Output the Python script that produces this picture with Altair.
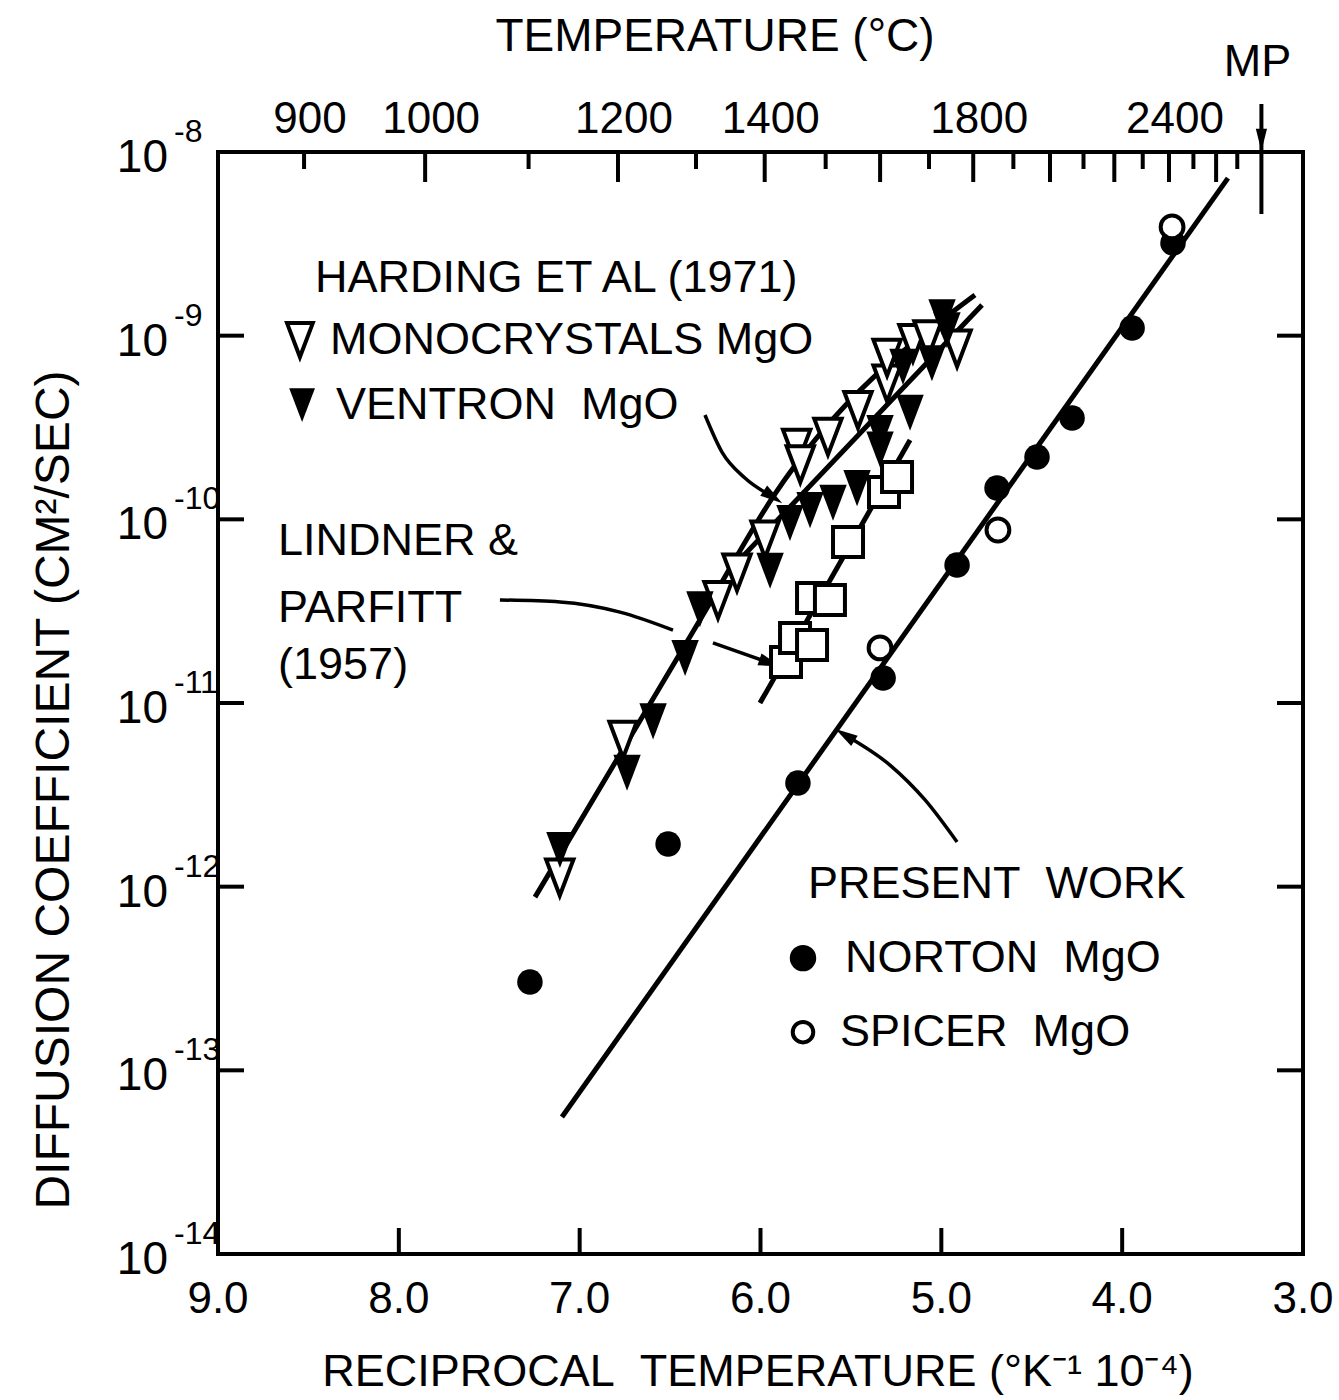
import altair as alt
import pandas as pd

W, H = 1085, 1102
FONT = "Liberation Sans"
SP = "\u00a0"

# ---------------- data: x = 10^4/T (K^-1), logD = log10 D (cm^2/s) ----------------
mono_x = [7.11, 6.76, 6.235, 6.13, 5.975, 5.80, 5.78, 5.627, 5.461, 5.30, 5.30, 5.157, 5.074, 4.913]
mono_logd = [-11.95, -11.20, -10.44, -10.29, -10.11, -9.61, -9.70, -9.55, -9.405, -9.26, -9.12, -9.04, -9.02, -9.07]

vent_x = [7.109, 6.738, 6.594, 6.417, 6.335, 5.947, 5.837, 5.726, 5.599, 5.466, 5.339, 5.339, 5.173, 5.212, 5.052, 4.996, 4.969]
vent_logd = [-11.80, -11.38, -11.10, -10.755, -10.49, -10.28, -10.02, -9.95, -9.91, -9.83, -9.53, -9.62, -9.42, -9.17, -9.15, -8.90, -8.97]

lind_x = [5.859, 5.809, 5.715, 5.715, 5.616, 5.516, 5.317, 5.245]
lind_logd = [-10.777, -10.646, -10.684, -10.428, -10.439, -10.124, -9.851, -9.770]

norton_x = [3.719, 3.945, 4.277, 4.471, 4.692, 4.913, 5.322, 5.793, 6.511, 7.275]
norton_logd = [-8.495, -8.958, -9.448, -9.661, -9.829, -10.249, -10.864, -11.436, -11.768, -12.519]

spicer_x = [3.724, 4.687, 5.339]
spicer_logd = [-8.408, -10.058, -10.700]

# fitted lines (vertices)
line_names = ["present", "present", "mono", "mono", "mono", "mono", "vent", "vent", "lind", "lind"]
line_x = [7.098, 3.415, 7.247, 6.335, 5.931, 4.814, 6.169, 4.775, 6.003, 5.173]
line_logd = [-13.254, -8.142, -12.057, -10.548, -9.878, -8.779, -10.276, -8.833, -11.0, -9.568]

# annotation arrows (leader curves)
arrow_names = ["a1"] * 4 + ["a2"] * 4 + ["a3"] * 2 + ["a4"] * 4
arrow_x = [6.307, 6.213, 6.086, 5.931,
           7.441, 7.109, 6.777, 6.484,
           6.263, 5.947,
           4.913, 5.090, 5.284, 5.533]
arrow_logd = [-9.432, -9.634, -9.775, -9.878,
              -10.439, -10.450, -10.505, -10.603,
              -10.673, -10.782,
              -11.757, -11.528, -11.338, -11.174]
head_x = [5.931, 5.947, 5.533]
head_logd = [-9.878, -10.782, -11.174]
head_angle = [124, 109, 302]

# axes
bottom_vals = [9.0, 8.0, 7.0, 6.0, 5.0, 4.0, 3.0]
bottom_text = ["9.0", "8.0", "7.0", "6.0", "5.0", "4.0", "3.0"]
decades = [-8, -9, -10, -11, -12, -13, -14]
temp_ticks = list(range(900, 2701, 100))
temp_labels = [900, 1000, 1200, 1400, 1800, 2400]
MP_X = 3.23

# annotation texts
ann_text = ["HARDING ET AL (1971)", "MONOCRYSTALS MgO", "VENTRON" + SP + SP + "MgO",
            "LINDNER &", "PARFITT", "(1957)", "PRESENT" + SP + SP + "WORK",
            "NORTON" + SP + SP + "MgO", "SPICER" + SP + SP + "MgO"]
ann_x = [8.464, 8.381, 8.347, 8.668, 8.668, 8.668, 5.737, 5.533, 5.560]
ann_logd = [-8.686, -9.024, -9.378, -10.118, -10.483, -10.793, -11.986, -12.389, -12.792]

key_x = [8.547, 8.535, 5.765, 5.765]
key_logd = [-9.024, -9.378, -12.389, -12.792]


def pts(xs, logs, **extra):
    d = pd.DataFrame({"x": xs, "D": [10.0 ** v for v in logs]})
    for k, v in extra.items():
        d[k] = v
    return d


xs = alt.Scale(domain=[3, 9], reverse=True, nice=False, zero=False)
ys = alt.Scale(type="log", domain=[1e-14, 1e-8], nice=False)
X = alt.X("x:Q", scale=xs, axis=None)
Y = alt.Y("D:Q", scale=ys, axis=None)

TRI_DOWN = "M-0.76,-1L0.76,-1L0,1Z"
HEAD = "M0,-1L-0.55,1L0.55,1Z"

layers = []

# fitted lines
ldf = pts(line_x, line_logd, s=line_names)
ldf["o"] = range(len(ldf))
layers.append(alt.Chart(ldf).mark_line(color="black", strokeWidth=5, interpolate="monotone").encode(
    X, Y, detail="s:N", order="o:Q"))

# leader arrows
adf = pts(arrow_x, arrow_logd, s=arrow_names)
adf["o"] = range(len(adf))
layers.append(alt.Chart(adf).mark_line(color="black", strokeWidth=3.5, interpolate="monotone").encode(
    X, Y, detail="s:N", order="o:Q"))
hdf = pts(head_x, head_logd, a=head_angle)
layers.append(alt.Chart(hdf).mark_point(shape=HEAD, filled=True, color="black", size=500, opacity=1).encode(
    X, Y, angle=alt.Angle("a:Q", scale=None)))

# data markers
layers.append(alt.Chart(pts(lind_x, lind_logd)).mark_point(
    shape="square", size=900, fill="white", stroke="black", strokeWidth=4, opacity=1, fillOpacity=1).encode(X, Y))
layers.append(alt.Chart(pts(mono_x, mono_logd)).mark_point(
    shape=TRI_DOWN, size=1300, fill="white", stroke="black", strokeWidth=4, opacity=1, fillOpacity=1).encode(X, Y))
layers.append(alt.Chart(pts(vent_x, vent_logd)).mark_point(
    shape=TRI_DOWN, size=1300, filled=True, color="black", opacity=1).encode(X, Y))
layers.append(alt.Chart(pts(norton_x, norton_logd)).mark_point(
    shape="circle", size=650, filled=True, color="black", opacity=1).encode(X, Y))
layers.append(alt.Chart(pts(spicer_x, spicer_logd)).mark_point(
    shape="circle", size=520, fill="white", stroke="black", strokeWidth=4, opacity=1, fillOpacity=1).encode(X, Y))

# key markers
kdf = pts(key_x, key_logd, k=["open_tri", "fill_tri", "fill_c", "open_c"])
layers.append(alt.Chart(kdf[kdf.k == "open_tri"]).mark_point(
    shape=TRI_DOWN, size=1150, fill="white", stroke="black", strokeWidth=4, opacity=1, fillOpacity=1).encode(X, Y))
layers.append(alt.Chart(kdf[kdf.k == "fill_tri"]).mark_point(
    shape=TRI_DOWN, size=1150, filled=True, color="black", opacity=1).encode(X, Y))
layers.append(alt.Chart(kdf[kdf.k == "fill_c"]).mark_point(
    shape="circle", size=700, filled=True, color="black", opacity=1).encode(X, Y))
layers.append(alt.Chart(kdf[kdf.k == "open_c"]).mark_point(
    shape="circle", size=420, fill="white", stroke="black", strokeWidth=4, opacity=1, fillOpacity=1).encode(X, Y))

# annotation text
tdf = pts(ann_x, ann_logd, t=ann_text)
layers.append(alt.Chart(tdf).mark_text(font=FONT, fontSize=45, align="left", baseline="middle", color="black").encode(
    X, Y, text="t:N"))

# ---- frame ticks ----
dec_df = pd.DataFrame({"D": [10.0 ** d for d in decades[1:-1]]})
layers.append(alt.Chart(dec_df).mark_rule(color="black", strokeWidth=4).encode(
    y=Y, x=alt.value(0), x2=alt.value(26)))
layers.append(alt.Chart(dec_df).mark_rule(color="black", strokeWidth=4).encode(
    y=Y, x=alt.value(W), x2=alt.value(W - 26)))
bt_df = pd.DataFrame({"x": bottom_vals[1:-1]})
layers.append(alt.Chart(bt_df).mark_rule(color="black", strokeWidth=4).encode(
    x=X, y=alt.value(H), y2=alt.value(H - 26)))

tt = pd.DataFrame({"T": temp_ticks})
tt["x"] = 1e4 / (tt["T"] + 273.15)
tt["long"] = (tt["T"] % 200 == 0)
layers.append(alt.Chart(tt[tt.long]).mark_rule(color="black", strokeWidth=4).encode(
    x=X, y=alt.value(0), y2=alt.value(30)))
layers.append(alt.Chart(tt[~tt.long]).mark_rule(color="black", strokeWidth=4).encode(
    x=X, y=alt.value(0), y2=alt.value(17)))

# MP arrow
mp = pd.DataFrame({"x": [MP_X], "t": ["MP"]})
layers.append(alt.Chart(mp).mark_rule(color="black", strokeWidth=4).encode(
    x=X, y=alt.value(-48), y2=alt.value(62)))
layers.append(alt.Chart(mp).mark_point(shape="M-0.5,-1L0.5,-1L0,1Z", size=500, filled=True, color="black", opacity=1).encode(
    x=X, y=alt.value(-12)))
layers.append(alt.Chart(mp).mark_text(font=FONT, fontSize=45, baseline="middle", color="black", dx=-4).encode(
    x=X, y=alt.value(-90), text="t:N"))

# ---- axis labels ----
bl = pd.DataFrame({"x": bottom_vals, "t": bottom_text})
layers.append(alt.Chart(bl).mark_text(font=FONT, fontSize=44, baseline="middle", color="black").encode(
    x=X, y=alt.value(H + 46), text="t:N"))

tl = pd.DataFrame({"T": temp_labels})
tl["x"] = 1e4 / (tl["T"] + 273.15)
tl["t"] = tl["T"].astype(str)
layers.append(alt.Chart(tl).mark_text(font=FONT, fontSize=44, baseline="middle", color="black", dx=6).encode(
    x=X, y=alt.value(-32), text="t:N"))

yl = pd.DataFrame({"D": [10.0 ** d for d in decades], "b": ["10"] * len(decades),
                   "e": [str(d) for d in decades]})
layers.append(alt.Chart(yl).mark_text(font=FONT, fontSize=46, align="right", baseline="middle", color="black", dy=6).encode(
    y=Y, x=alt.value(-50), text="b:N"))
layers.append(alt.Chart(yl).mark_text(font=FONT, fontSize=32, align="left", baseline="middle", color="black", dy=-20).encode(
    y=Y, x=alt.value(-44), text="e:N"))

# ---- titles ----
ttl = pd.DataFrame({"t": ["TEMPERATURE (°C)"]})
layers.append(alt.Chart(ttl).mark_text(font=FONT, fontSize=46, baseline="middle", color="black").encode(
    x=alt.value(497), y=alt.value(-115), text="t:N"))
xt = pd.DataFrame({"t": ["RECIPROCAL" + SP + SP + "TEMPERATURE (°K⁻¹ 10⁻⁴)"]})
layers.append(alt.Chart(xt).mark_text(font=FONT, fontSize=45, baseline="middle", color="black").encode(
    x=alt.value(540), y=alt.value(H + 118), text="t:N"))
yt = pd.DataFrame({"t": ["DIFFUSION COEFFICIENT (CM²/SEC)"]})
layers.append(alt.Chart(yt).mark_text(font=FONT, fontSize=48, baseline="middle", color="black", angle=270).encode(
    x=alt.value(-163), y=alt.value(638), text="t:N"))

chart = alt.layer(*layers).properties(
    width=W, height=H,
    padding={"left": 218, "top": 152, "right": 36, "bottom": 146},
    autosize=alt.AutoSizeParams(type="none"),
    background="white",
).configure_view(stroke="black", strokeWidth=4)

chart.save("out.html", embed_options={"renderer": "svg", "actions": False})
